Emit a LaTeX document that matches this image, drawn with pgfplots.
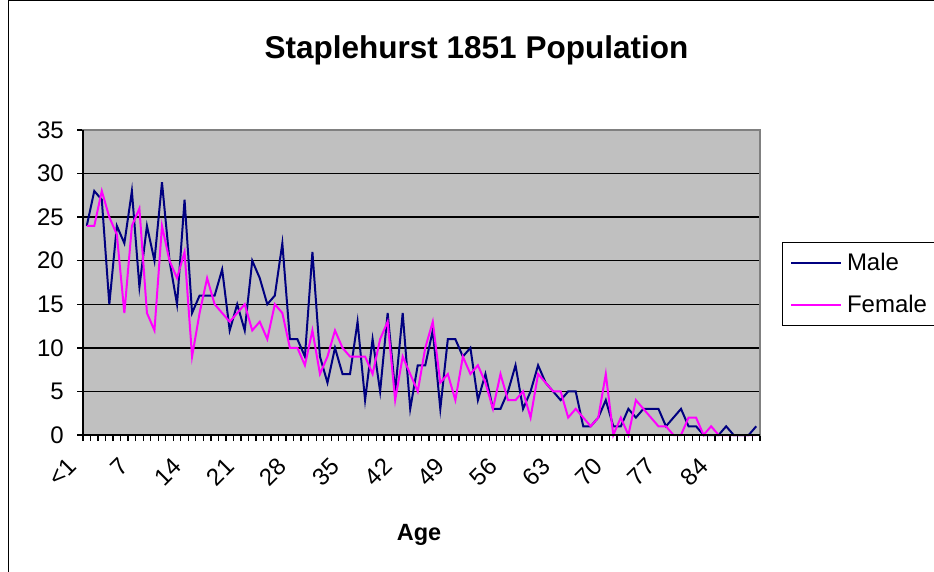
\documentclass[border=0pt]{standalone}
\usepackage{pgfplots}
\usepackage{pgfplotstable}
\usepackage{fontspec}
\setmainfont{Liberation Sans}
\pgfplotsset{compat=1.18}
\definecolor{plotgrey}{RGB}{192,192,192}
\definecolor{bordergrey}{RGB}{128,128,128}
\definecolor{malecol}{RGB}{0,0,128}
\definecolor{femalecol}{RGB}{255,0,255}

\pgfplotstableread{
age male female
0 24 24
1 28 24
2 27 28
3 15 25
4 24 23
5 22 14
6 28 24
7 17 26
8 24 14
9 20 12
10 29 24
11 20 20
12 15 18
13 27 21
14 14 9
15 16 14
16 16 18
17 16 15
18 19 14
19 12 13
20 15 14
21 12 15
22 20 12
23 18 13
24 15 11
25 16 15
26 22 14
27 11 10
28 11 10
29 9 8
30 21 12
31 9 7
32 6 9
33 10 12
34 7 10
35 7 9
36 13 9
37 4 9
38 11 7
39 5 11
40 14 13
41 5 4
42 14 9
43 3 7
44 8 5
45 8 10
46 12 13
47 3 6
48 11 7
49 11 4
50 9 9
51 10 7
52 4 8
53 7 6
54 3 3
55 3 7
56 5 4
57 8 4
58 3 5
59 5 2
60 8 7
61 6 6
62 5 5
63 4 5
64 5 2
65 5 3
66 1 2
67 1 1
68 2 2
69 4 7
70 1 0
71 1 2
72 3 0
73 2 4
74 3 3
75 3 2
76 3 1
77 1 1
78 2 0
79 3 0
80 1 2
81 1 2
82 0 0
83 0 1
84 0 0
85 1 0
86 0 0
87 0 0
88 0 0
89 1 0
}\pop

\begin{document}
\begin{tikzpicture}
\useasboundingbox (0pt,0pt) rectangle (934pt,571pt);
\fill[white] (0pt,0pt) rectangle (934pt,571pt);
\draw[black,line width=1pt] (8.5pt,-2pt) -- (8.5pt,570.5pt) -- (940pt,570.5pt);
\begin{axis}[
  at={(83pt,136pt)}, anchor=south west,
  scale only axis, width=677pt, height=305pt,
  xmin=-0.5, xmax=89.5, ymin=0, ymax=35,
  clip=false,
  axis background/.style={fill=plotgrey},
  axis line style={draw=bordergrey, line width=1.3pt},
  xtick={0,7,...,84},
  xticklabels={<1,7,14,21,28,35,42,49,56,63,70,77,84},
  minor xtick={-0.5,0.5,...,89.5},
  ytick={0,5,...,35},
  minor ytick={0,5,...,35},
  xtick pos=bottom, ytick pos=left,
  major tick length=0pt,
  minor tick length=6pt,
  tick style={black,line width=1.3pt},
  tick align=outside,
  ymajorgrids,
  grid style={black, line width=1.3pt},
  /pgf/number format/assume math mode=true,
  tick label style={font=\fontsize{24}{28}\selectfont},
  yticklabel style={anchor=east, inner sep=0pt, xshift=-19pt},
  xticklabel style={rotate=45, anchor=east, inner sep=0pt, xshift=-29.7pt, yshift=-8.7pt},
  title={Staplehurst 1851 Population},
  title style={at={(rel axis cs:0.5812,1.216)}, anchor=base, font=\bfseries\fontsize{31.5}{36}\selectfont},
  xlabel={Age},
  xlabel style={at={(rel axis cs:0.4963,-0.3475)}, anchor=base, font=\bfseries\fontsize{23.5}{28}\selectfont},
  legend style={at={(rel axis cs:1.0325,0.6344)}, anchor=north west, draw=black, line width=1pt, fill=white,
    inner xsep=7.5pt, inner ysep=11.5pt, row sep=23pt, font=\fontsize{24}{28}\selectfont,
    nodes={inner sep=0pt}, /tikz/every odd column/.append style={column sep=5pt}},
  legend cell align=left,
  legend image code/.code={\draw[#1] (0pt,0pt) -- (50pt,0pt);},
  after end axis/.code={\draw[black,line width=2pt] (rel axis cs:0,1) -- (rel axis cs:0,0) -- (rel axis cs:1,0);},
]
\addplot[malecol, line width=2pt] table[x=age,y=male]{\pop};
\addlegendentry{Male}
\addplot[femalecol, line width=2pt] table[x=age,y=female]{\pop};
\addlegendentry{Female\hspace{8pt}}
\end{axis}
\end{tikzpicture}
\end{document}
